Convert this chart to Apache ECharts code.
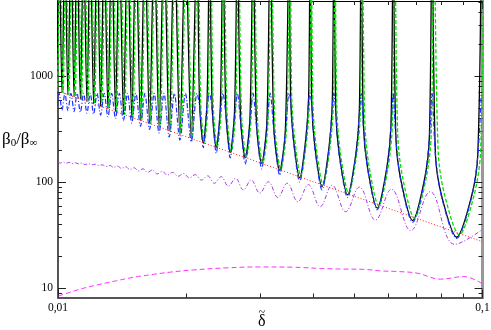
<!DOCTYPE html>
<html>
<head>
<meta charset="utf-8">
<script src="https://cdn.jsdelivr.net/npm/echarts@6/dist/echarts.min.js"></script>
<style>
  html, body { margin: 0; background: #fff; }
  #chart { width: 491px; height: 330px; }
</style>
</head>
<body>
<div id="chart"></div>
<script>
// resonance peaks run off the top of the plot, so they get an off-scale value
const P = 2e4;

const xMajor = [0.01, 0.1];
const xMinor = [0.02, 0.03, 0.04, 0.05, 0.06, 0.07, 0.08, 0.09];
const yMajor = [10, 100, 1000];
const yMinor = [9, 20, 30, 40, 50, 60, 70, 80, 90, 200, 300, 400, 500, 600, 700, 800, 900, 2000, 3000, 4000, 5000];

// solid black
const blackCurve = [
  [0.00976, P], [0.00991, 730],
  [0.01006, P], [0.01022, 701],
  [0.01038, P], [0.01055, 670],
  [0.01073, P], [0.01091, 639],
  [0.01109, P], [0.01129, 609],
  [0.01149, P], [0.01170, 579],
  [0.01191, P], [0.01213, 550],
  [0.01236, P], [0.01260, 521],
  [0.01285, P], [0.01311, 492],
  [0.01338, P], [0.01366, 464],
  [0.01395, P], [0.01426, 437],
  [0.01458, P], [0.01492, 410],
  [0.01526, P], [0.01564, 383],
  [0.01602, P], [0.01643, 357],
  [0.01685, P], [0.01730, 332],
  [0.01777, P], [0.01828, 307],
  [0.01880, P], [0.01937, 283],
  [0.01996, P], [0.02060, 259],
  [0.02126, P], [0.02155, 566], [0.02199, 236], [0.02244, 566],
  [0.02275, P], [0.02308, 514], [0.02359, 214], [0.02412, 514],
  [0.02447, P], [0.02486, 461], [0.02545, 192], [0.02605, 461],
  [0.02646, P], [0.02692, 410], [0.02761, 171], [0.02833, 410],
  [0.02881, P], [0.02935, 362], [0.03018, 151], [0.03104, 362],
  [0.03162, P], [0.03227, 312], [0.03328, 130], [0.03432, 312],
  [0.03503, P], [0.03531, 660], [0.03584, 264], [0.03709, 110], [0.03837, 264], [0.03895, 660],
  [0.03926, P], [0.03962, 546], [0.04028, 218], [0.04187, 91], [0.04352, 218], [0.04426, 546],
  [0.04466, P], [0.04513, 456], [0.04600, 182], [0.04809, 76], [0.05028, 182], [0.05126, 456],
  [0.05179, P], [0.05242, 342], [0.05362, 137], [0.05649, 57], [0.05951, 137], [0.06086, 342],
  [0.06161, P], [0.06252, 261], [0.06426, 104], [0.06845, 43.5], [0.07292, 104], [0.07494, 261],
  [0.07605, P], [0.07749, 182], [0.08022, 73], [0.08690, 30.3], [0.09416, 73], [0.09747, 182],
  [0.09930, P]
];

// green dashed, sits a hair to the right of the black one
const greenCurve = [
  [0.00982, P], [0.00997, 730],
  [0.01012, P], [0.01028, 701],
  [0.01044, P], [0.01061, 670],
  [0.01079, P], [0.01098, 639],
  [0.01116, P], [0.01136, 609],
  [0.01156, P], [0.01177, 579],
  [0.01198, P], [0.01220, 550],
  [0.01243, P], [0.01268, 521],
  [0.01293, P], [0.01319, 492],
  [0.01346, P], [0.01374, 464],
  [0.01403, P], [0.01435, 437],
  [0.01467, P], [0.01501, 410],
  [0.01535, P], [0.01573, 383],
  [0.01612, P], [0.01653, 357],
  [0.01695, P], [0.01740, 332],
  [0.01788, P], [0.01839, 307],
  [0.01891, P], [0.01949, 283],
  [0.02008, P], [0.02072, 259],
  [0.02139, P], [0.02168, 566], [0.02212, 238], [0.02257, 566],
  [0.02289, P], [0.02322, 514], [0.02373, 216], [0.02426, 514],
  [0.02462, P], [0.02501, 461], [0.02560, 194], [0.02621, 461],
  [0.02662, P], [0.02708, 410], [0.02778, 173], [0.02850, 410],
  [0.02898, P], [0.02953, 362], [0.03036, 153], [0.03123, 362],
  [0.03181, P], [0.03246, 315], [0.03348, 133], [0.03453, 315],
  [0.03524, P], [0.03552, 670], [0.03606, 270], [0.03731, 114], [0.03860, 270], [0.03918, 670],
  [0.03950, P], [0.03986, 560], [0.04052, 224], [0.04212, 95], [0.04378, 224], [0.04453, 560],
  [0.04493, P], [0.04540, 470], [0.04628, 188], [0.04838, 79], [0.05058, 188], [0.05157, 470],
  [0.05210, P], [0.05284, 355], [0.05405, 142], [0.05694, 60], [0.05999, 142], [0.06135, 355],
  [0.06210, P], [0.06315, 272], [0.06490, 109], [0.06913, 45.8], [0.07365, 109], [0.07569, 272],
  [0.07681, P], [0.07865, 190], [0.08142, 76], [0.08820, 31.8], [0.09557, 76], [0.09893, 190],
  [0.10080, P]
];

// blue dash-dot, peaks saturate around 700
const blueCurve = [
  [0.00976, 690], [0.00991, 485],
  [0.01006, 690], [0.01022, 480],
  [0.01038, 690], [0.01055, 475],
  [0.01073, 690], [0.01091, 465],
  [0.01109, 690], [0.01129, 458],
  [0.01149, 690], [0.01170, 450],
  [0.01191, 690], [0.01213, 440],
  [0.01236, 690], [0.01260, 430],
  [0.01285, 690], [0.01311, 415],
  [0.01338, 690], [0.01366, 400],
  [0.01395, 690], [0.01426, 382],
  [0.01458, 690], [0.01492, 362],
  [0.01526, 690], [0.01564, 338],
  [0.01602, 690], [0.01643, 315],
  [0.01685, 690], [0.01730, 292],
  [0.01777, 690], [0.01828, 268],
  [0.01880, 690], [0.01937, 250],
  [0.01996, 690], [0.02060, 240],
  [0.02126, 690], [0.02155, 530], [0.02199, 212], [0.02244, 530],
  [0.02275, 690], [0.02308, 470], [0.02359, 188], [0.02412, 470],
  [0.02447, 690], [0.02486, 425], [0.02545, 170], [0.02605, 425],
  [0.02646, 690], [0.02692, 370], [0.02761, 148], [0.02833, 370],
  [0.02881, 690], [0.02935, 335], [0.03018, 134], [0.03104, 335],
  [0.03162, 690], [0.03227, 292], [0.03328, 117], [0.03432, 292],
  [0.03503, 690], [0.03531, 600], [0.03584, 252], [0.03709, 101], [0.03837, 252], [0.03895, 600],
  [0.03926, 690], [0.03962, 520], [0.04028, 210], [0.04187, 85], [0.04352, 210], [0.04426, 520],
  [0.04466, 690], [0.04513, 440], [0.04600, 176], [0.04809, 72], [0.05028, 176], [0.05126, 440],
  [0.05179, 690], [0.05242, 335], [0.05362, 134], [0.05649, 55], [0.05951, 134], [0.06086, 335],
  [0.06161, 690], [0.06252, 255], [0.06426, 101], [0.06845, 42], [0.07292, 101], [0.07494, 255],
  [0.07605, 690], [0.07749, 178], [0.08022, 71], [0.08690, 29.5], [0.09416, 71], [0.09747, 178],
  [0.09930, 690]
];

// red dotted straight line
const redLine = [[0.01, 723], [0.1, 27.5]];

// violet dash-dot, small wiggles growing to the right
const violetCurve = [
  [0.0100, 155], [0.01012, 152], [0.01028, 155], [0.01044, 151], [0.01062, 154],
  [0.01080, 150], [0.01098, 153], [0.01118, 149], [0.01138, 152], [0.01158, 147],
  [0.01179, 150], [0.01201, 146], [0.01224, 148], [0.01247, 144], [0.01272, 146],
  [0.01298, 141], [0.01325, 144], [0.01352, 138], [0.01381, 142], [0.01412, 135],
  [0.01443, 140], [0.01477, 132], [0.01511, 137], [0.01548, 128], [0.01586, 134],
  [0.01627, 124], [0.01668, 131], [0.01713, 120], [0.01759, 127], [0.01810, 117],
  [0.01861, 124], [0.01918, 114], [0.01976, 121], [0.02039, 110], [0.02105, 118],
  [0.02177, 105], [0.02252, 115], [0.02335, 98], [0.02423, 113], [0.02520, 92],
  [0.02620, 109], [0.02733, 85], [0.02852, 105], [0.02988, 79], [0.03130, 101],
  [0.03295, 72], [0.03468, 98], [0.03672, 65.6], [0.03887, 95], [0.04145, 59],
  [0.04421, 94], [0.04761, 52.8], [0.05127, 90], [0.05593, 44], [0.06099, 86],
  [0.06777, 35], [0.07529, 81.5], [0.08603, 26], [0.1, 36]
];

// magenta dashed, bottom
const magentaCurve = [
  [0.01002, 8.46], [0.01147, 10.0], [0.01256, 10.9], [0.01375, 11.8], [0.01505, 12.7],
  [0.01648, 13.4], [0.01837, 14.2], [0.02085, 14.9], [0.0250, 15.6], [0.02995, 15.9],
  [0.03589, 15.8], [0.04149, 15.4], [0.04626, 15.2], [0.05248, 15.1], [0.05745, 14.6],
  [0.06293, 14.4], [0.07015, 13.9], [0.07962, 12.2], [0.09035, 12.9], [0.1, 11.0]
];

const serif = 'Liberation Serif';
const fmt = v => String(Number(Number(v).toPrecision(4))).replace('.', ',');

function xAx(position, ticks, len, line, labels) {
  return {
    type: 'log', logBase: 10, min: 0.01, max: 0.1, position,
    axisLine: line ? { show: true, onZero: false, lineStyle: line } : { show: false },
    axisTick: { show: true, inside: true, length: len, customValues: ticks, lineStyle: { color: '#222' } },
    axisLabel: labels
      ? { show: true, customValues: labels, formatter: fmt, margin: 4, fontFamily: serif, fontSize: 11.5, color: '#000' }
      : { show: false },
    splitLine: { show: false }
  };
}

function yAx(position, ticks, len, line, labels) {
  return {
    type: 'log', logBase: 10, min: 8.19, max: 5130, position,
    axisLine: line ? { show: true, onZero: false, lineStyle: line } : { show: false },
    axisTick: { show: true, inside: true, length: len, customValues: ticks, lineStyle: { color: '#222' } },
    axisLabel: labels
      ? { show: true, customValues: labels, formatter: fmt, margin: 5, fontFamily: serif, fontSize: 11.5, color: '#000' }
      : { show: false },
    splitLine: { show: false }
  };
}

function curve(data, color, width, type, smooth) {
  return {
    type: 'line', data, smooth, symbol: 'none', clip: true, silent: true,
    xAxisIndex: 0, yAxisIndex: 0,
    lineStyle: { color, width, type }
  };
}

const chart = echarts.init(document.getElementById('chart'));
chart.setOption({
  animation: false,
  backgroundColor: '#fff',
  grid: { left: 58, right: 8.5, top: 1, bottom: 32.5, outerBoundsMode: 'none' },
  xAxis: [
    xAx('bottom', xMajor, 8, { color: '#555', width: 2 }, xMajor),
    xAx('bottom', xMinor, 4, null, null),
    xAx('top', xMajor, 8, { color: '#000', width: 1 }, null),
    xAx('top', xMinor, 4, null, null)
  ],
  yAxis: [
    yAx('left', yMajor, 8, { color: '#555', width: 2 }, yMajor),
    yAx('left', yMinor, 4, null, null),
    yAx('right', yMajor, 8, { color: '#999', width: 3 }, null),
    yAx('right', yMinor, 4, null, null)
  ],
  series: [
    curve(blackCurve, '#000', 1.3, 'solid', 0.3),
    curve(greenCurve, '#00e000', 1.3, [4, 2], 0.3),
    curve(blueCurve, '#2030ff', 1.2, [5, 2, 1, 2], 0.3),
    curve(redLine, '#ff2020', 1, [1, 2], false),
    curve(violetCurve, '#a83ce8', 1, [4, 2, 1, 2], 0.4),
    curve(magentaCurve, '#ff30ff', 1, [5, 3], 0.4)
  ],
  graphic: [
    {
      type: 'text', left: 2, top: 131,
      style: {
        text: '{b|β}{s|0}{b|/β}{s|∞}',
        rich: {
          b: { fontFamily: serif, fontSize: 17, fill: '#000', lineHeight: 18 },
          s: { fontFamily: serif, fontSize: 11, fill: '#000', verticalAlign: 'bottom', lineHeight: 18 }
        }
      }
    },
    {
      type: 'text', left: 258, top: 314,
      style: { text: 'δ', fontFamily: serif, fontSize: 16, fill: '#000' }
    },
    {
      type: 'text', left: 258.5, top: 307,
      style: { text: '~', fontFamily: serif, fontSize: 12, fill: '#000' }
    }
  ]
});
</script>
</body>
</html>
